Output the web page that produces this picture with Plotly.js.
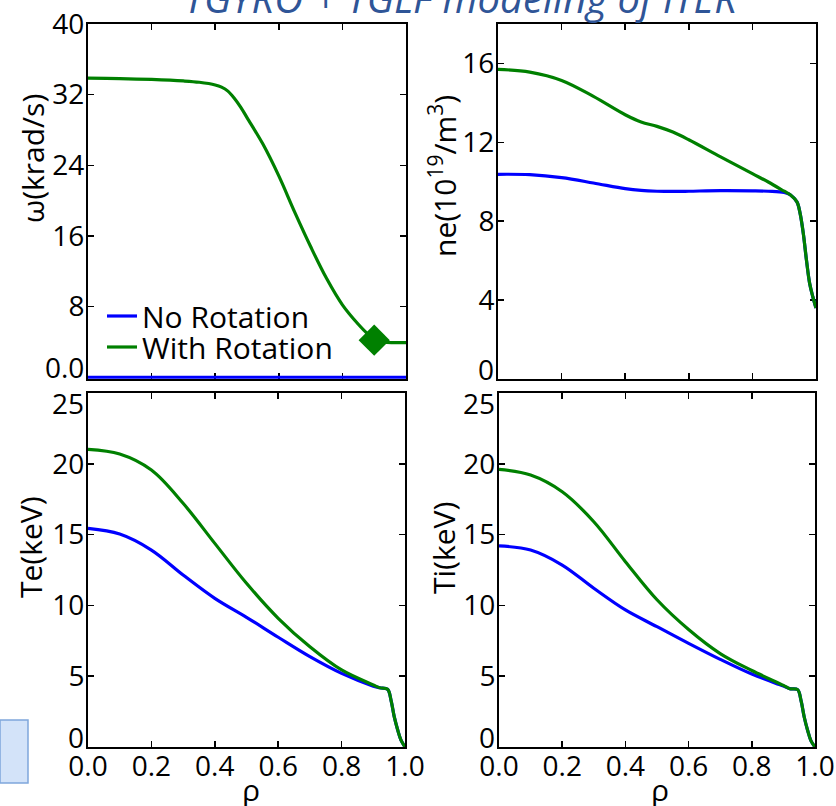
<!DOCTYPE html>
<html>
<head>
<meta charset="utf-8">
<script src="https://cdn.plot.ly/plotly-3.0.1.min.js"></script>
<style>html,body{margin:0;padding:0;background:#fff;}</style>
</head>
<body>
<div id="chart" style="width:836px;height:806px;"></div>
<script>
// ---------- data ----------
const seriesNames = ['No Rotation', 'With Rotation'];

const rhoOmega = [0, 0.1, 0.2, 0.3, 0.35, 0.4, 0.42, 0.44, 0.46, 0.48, 0.5, 0.55, 0.6, 0.65, 0.7, 0.75, 0.8, 0.85, 0.88, 0.9, 0.92, 0.94, 0.97, 1.0];
const omegaWithRot = [33.86, 33.82, 33.72, 33.55, 33.4, 33.1, 32.85, 32.4, 31.6, 30.6, 29.4, 26.4, 22.8, 18.7, 14.8, 11.2, 8.2, 6.0, 4.9, 4.4, 4.05, 3.93, 3.92, 3.92];
const rhoOmegaNoRot = [0, 1];
const omegaNoRot = [0, 0];
const markerRho = [0.9];
const markerOmega = [4.2];

const rhoNe = [0, 0.1, 0.2, 0.3, 0.4, 0.45, 0.5, 0.55, 0.6, 0.7, 0.8, 0.85, 0.9, 0.92, 0.94, 0.95, 0.96, 0.97, 0.98, 0.99, 1.0];
const neWithRot = [15.70, 15.56, 15.14, 14.33, 13.40, 13.03, 12.81, 12.52, 12.13, 11.26, 10.41, 9.99, 9.52, 9.33, 8.98, 8.4, 7.39, 6.03, 4.85, 4.17, 3.6];
const neNoRot   = [10.38, 10.36, 10.21, 9.94, 9.65, 9.56, 9.52, 9.51, 9.52, 9.55, 9.54, 9.52, 9.46, 9.33, 8.98, 8.4, 7.39, 6.03, 4.85, 4.17, 3.6];

const rhoT = [0, 0.1, 0.2, 0.3, 0.4, 0.5, 0.6, 0.7, 0.8, 0.9, 0.92, 0.945, 0.956, 0.966, 0.977, 0.987, 1.0];
const teWithRot = [21.02, 20.69, 19.56, 17.21, 14.38, 11.56, 9.09, 7.08, 5.44, 4.38, 4.18, 4.08, 3.3, 2.14, 1.2, 0.5, 0];
const teNoRot   = [15.44, 15.04, 13.91, 12.15, 10.50, 9.16, 7.75, 6.38, 5.20, 4.30, 4.18, 4.08, 3.3, 2.14, 1.2, 0.5, 0];
const tiWithRot = [19.61, 19.21, 18.03, 15.91, 13.09, 10.4, 8.3, 6.6, 5.4, 4.35, 4.12, 4.05, 3.25, 2.1, 1.15, 0.45, 0];
const tiNoRot   = [14.20, 13.91, 12.85, 11.21, 9.68, 8.5, 7.32, 6.19, 5.15, 4.30, 4.12, 4.05, 3.25, 2.1, 1.15, 0.45, 0];

const xTicks = [0, 0.2, 0.4, 0.6, 0.8, 1.0];
const xTickText = ['0.0', '0.2', '0.4', '0.6', '0.8', '1.0'];
const omegaTicks = [0, 8, 16, 24, 32, 40];
const omegaTickText = ['0.0', '8', '16', '24', '32', '40'];
const neTicks = [0, 4, 8, 12, 16];
const neTickText = ['0', '4', '8', '12', '16'];
const tTicks = [0, 5, 10, 15, 20, 25];
const tTickText = ['0', '5', '10', '15', '20', '25'];

const titleText = 'TGYRO + TGLF modeling of ITER';
const yTitles = ['ω(krad/s)', 'ne(10<sup>19</sup>/m<sup>3</sup>)', 'Te(keV)', 'Ti(keV)'];
const xTitle = 'ρ';

// ---------- styling ----------
const BLUE = '#0000ff', GREEN = '#008000';
const FONT = 'Open Sans, Liberation Sans, sans-serif';
const W = 836, H = 806;
const px = v => v / W;
const py = v => 1 - v / H;

function line(x, y, color, xa, ya, name, legend, show) {
  return {x, y, type: 'scatter', mode: 'lines', name, legend, showlegend: !!show,
    xaxis: xa, yaxis: ya, line: {color, width: 3.2, shape: 'spline', smoothing: 1},
    hoverinfo: 'skip'};
}

const traces = [
  line(rhoOmegaNoRot, omegaNoRot, BLUE, 'x', 'y', seriesNames[0], 'legend', true),
  line(rhoOmega, omegaWithRot, GREEN, 'x', 'y', seriesNames[1], 'legend2', true),
  {x: markerRho, y: markerOmega, type: 'scatter', mode: 'markers', xaxis: 'x', yaxis: 'y',
   showlegend: false, marker: {symbol: 'diamond', size: 24, color: GREEN}, cliponaxis: false},
  line(rhoNe, neNoRot, BLUE, 'x2', 'y2'),
  line(rhoNe, neWithRot, GREEN, 'x2', 'y2'),
  line(rhoT, teNoRot, BLUE, 'x3', 'y3'),
  line(rhoT, teWithRot, GREEN, 'x3', 'y3'),
  line(rhoT, tiNoRot, BLUE, 'x4', 'y4'),
  line(rhoT, tiWithRot, GREEN, 'x4', 'y4'),
];

const axBase = {
  showline: true, linecolor: '#000', linewidth: 2, mirror: 'ticks',
  ticks: 'inside', ticklen: 6, tickwidth: 1.5, tickcolor: '#000',
  showgrid: false, zeroline: false, fixedrange: true,
  tickfont: {family: FONT, size: 28, color: '#000'}
};
function xax(domain, anchor, labels) {
  return Object.assign({}, axBase, {domain, anchor, range: [0, 1], tickmode: 'array',
    tickvals: xTicks, ticktext: xTickText, showticklabels: labels, layer: 'below traces',
    ticklabelstandoff: -7});
}
// extreme y tick labels are drawn shifted inward (as in reference) via annotations
const shiftIdx = {y: [0], y2: [0], y3: [0, 5], y4: [0, 5]};
function yax(domain, anchor, range, vals, text, key) {
  const tt = text.map((t, i) => shiftIdx[key].includes(i) ? '' : t);
  return Object.assign({}, axBase, {domain, anchor, range, tickmode: 'array',
    tickvals: vals, ticktext: tt, layer: 'below traces', ticklabelstandoff: -4});
}

const dLx = [px(88), px(406)], dRx = [px(498), px(816)];
const dTy = [py(379), py(24)], dBy = [py(747), py(393)];

const annotations = [];
annotations.push({text: titleText, xref: 'paper', yref: 'paper', x: px(460), y: py(27),
  xanchor: 'center', yanchor: 'bottom', showarrow: false,
  font: {family: FONT, size: 40, color: '#2f5597', style: 'italic'}});
const yTitlePos = [[32, 159], [443, 176], [30, 547], [443, 548]];
yTitles.forEach((t, i) => annotations.push({text: t, xref: 'paper', yref: 'paper',
  x: px(yTitlePos[i][0]), y: py(yTitlePos[i][1]), xanchor: 'center', yanchor: 'middle',
  textangle: -90, showarrow: false, font: {family: FONT, size: 30, color: '#000'}}));
[[251, 789], [660, 789]].forEach(p => annotations.push({text: xTitle, xref: 'paper', yref: 'paper',
  x: px(p[0]), y: py(p[1]), xanchor: 'center', yanchor: 'middle', showarrow: false,
  font: {family: FONT, size: 30, color: '#000'}}));
// shifted extreme tick labels
const tickSets = {y: [omegaTicks, omegaTickText, 'x'], y2: [neTicks, neTickText, 'x2'],
  y3: [tTicks, tTickText, 'x3'], y4: [tTicks, tTickText, 'x4']};
Object.keys(shiftIdx).forEach(k => {
  const [vals, txt, xk] = tickSets[k];
  shiftIdx[k].forEach(i => annotations.push({text: txt[i], xref: xk + ' domain', yref: k,
    x: 0, y: vals[i], xanchor: 'right', yanchor: 'middle', xshift: -2,
    yshift: i === 0 ? 10 : -10, showarrow: false,
    font: {family: FONT, size: 28, color: '#000'}}));
});

const layout = {
  width: W, height: H, margin: {l: 0, r: 0, t: 0, b: 0},
  paper_bgcolor: '#fff', plot_bgcolor: '#fff',
  xaxis: xax(dLx, 'y', false), yaxis: yax(dTy, 'x', [-0.2, 40], omegaTicks, omegaTickText, 'y'),
  xaxis2: xax(dRx, 'y2', false), yaxis2: yax(dTy, 'x2', [0, 18], neTicks, neTickText, 'y2'),
  xaxis3: xax([px(88), px(405)], 'y3', true), yaxis3: yax(dBy, 'x3', [0, 25], tTicks, tTickText, 'y3'),
  xaxis4: xax([px(499), px(815)], 'y4', true), yaxis4: yax(dBy, 'x4', [0, 25], tTicks, tTickText, 'y4'),
  legend: {x: px(102), y: py(290), xanchor: 'left', yanchor: 'top', bgcolor: 'rgba(0,0,0,0)',
    font: {family: FONT, size: 30, color: '#000'}, borderwidth: 0},
  legend2: {x: px(102), y: py(321), xanchor: 'left', yanchor: 'top', bgcolor: 'rgba(0,0,0,0)',
    font: {family: FONT, size: 30, color: '#000'}, borderwidth: 0},
  shapes: [{type: 'rect', xref: 'paper', yref: 'paper', x0: 0, x1: px(28), y0: py(783), y1: py(720),
    fillcolor: '#d3e3f9', line: {color: '#7fa7db', width: 1.5}, layer: 'above'}],
  annotations,
  showlegend: true
};

Plotly.newPlot('chart', traces, layout, {displayModeBar: false, staticPlot: true});
</script>
</body>
</html>
